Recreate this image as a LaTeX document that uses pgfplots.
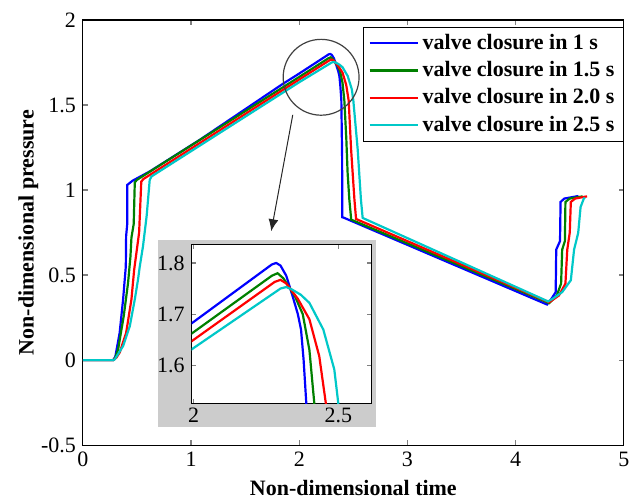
\documentclass[border=0pt]{standalone}
\usepackage{fontspec}
\setmainfont{Liberation Serif}
\usepackage{pgfplots}
\usepackage{pgfplotstable}
\pgfplotsset{compat=1.18}
\usetikzlibrary{arrows.meta}

\definecolor{cblue}{RGB}{0,0,255}
\definecolor{cgreen}{RGB}{0,128,0}
\definecolor{cred}{RGB}{255,0,0}
\definecolor{ccyan}{RGB}{0,200,200}

% time  pressure
\pgfplotstableread{
t p
0 0
0.28 0
0.30 0.02
0.34 0.16
0.372 0.357
0.397 0.55
0.40 0.73
0.41 0.80
0.41 1.03
0.46 1.055
0.62 1.11
1.08 1.295
1.85 1.625
2.00 1.685
2.27 1.797
2.285 1.80
2.30 1.795
2.32 1.775
2.342 1.735
2.36 1.70
2.371 1.67
2.38 1.61
2.389 1.528
2.396 1.20
2.398 0.84
2.417 0.836
4.29 0.327
4.33 0.36
4.37 0.40
4.375 0.65
4.41 0.70
4.415 0.93
4.45 0.95
4.58 0.965
}\blueT

\pgfplotstableread{
t p
0 0
0.28 0
0.30 0.015
0.326 0.063
0.378 0.26
0.418 0.455
0.44 0.61
0.449 0.72
0.47 0.80
0.48 1.045
0.50 1.06
2.00 1.665
2.27 1.775
2.29 1.78
2.31 1.77
2.35 1.735
2.377 1.70
2.40 1.63
2.417 1.525
2.435 1.30
2.447 1.10
2.463 0.944
2.48 0.826
4.31 0.335
4.38 0.38
4.42 0.45
4.43 0.65
4.455 0.70
4.46 0.93
4.50 0.95
4.62 0.963
}\greenT

\pgfplotstableread{
t p
0 0
0.28 0
0.31 0.015
0.34 0.044
0.40 0.16
0.449 0.357
0.474 0.53
0.52 0.75
0.54 1.05
0.56 1.065
2.00 1.65
2.28 1.763
2.30 1.767
2.32 1.76
2.36 1.73
2.40 1.69
2.434 1.618
2.457 1.525
2.479 1.24
2.51 0.944
2.525 0.83
4.31 0.34
4.40 0.38
4.46 0.45
4.477 0.65
4.50 0.75
4.51 0.93
4.55 0.95
4.66 0.963
}\redT

\pgfplotstableread{
t p
0 0
0.28 0
0.295 0.005
0.372 0.083
0.434 0.20
0.48 0.357
0.51 0.474
0.526 0.55
0.556 0.67
0.59 0.85
0.618 1.06
0.634 1.08
2.00 1.634
2.30 1.75
2.32 1.753
2.34 1.748
2.37 1.738
2.40 1.722
2.448 1.67
2.486 1.592
2.50 1.525
2.54 1.24
2.57 0.944
2.586 0.836
4.30 0.345
4.34 0.36
4.43 0.40
4.51 0.47
4.54 0.65
4.578 0.748
4.60 0.90
4.63 0.95
4.64 0.955
}\cyanT

\pgfplotsset{
  curve/.style={line width=1.1pt, mark=none},
}

\begin{document}
\begin{tikzpicture}
\begin{axis}[
    name=main,
    scale only axis,
    width=271pt, height=213pt,
    xmin=0, xmax=5, ymin=-0.5, ymax=2,
    xtick={0,1,2,3,4,5},
    ytick={-0.5,0,0.5,1,1.5,2},
    major tick length=2.5pt,
    axis line style={line width=0.6pt},
    tick style={line width=0.6pt},
    /pgf/number format/assume math mode=true,
    ticklabel style={font=\fontsize{11}{13}\selectfont},
    label style={font=\fontsize{11}{13}\selectfont\bfseries},
    xlabel={Non-dimensional time},
    ylabel={Non-dimensional pressure},
    ylabel style={yshift=-5.5pt},
    legend style={at={(1,0.984)}, anchor=north east, draw=black,
      font=\fontsize{11}{13}\selectfont\bfseries,
      row sep=0.5pt, inner xsep=2.5pt, inner ysep=1.5pt},
    legend cell align=left,
    legend image code/.code={\draw[#1] (0pt,0pt) -- (24pt,0pt);},
]
\addplot[curve, cblue] table[x=t, y=p] {\blueT};
\addplot[curve, cgreen] table[x=t, y=p] {\greenT};
\addplot[curve, cred] table[x=t, y=p] {\redT};
\addplot[curve, ccyan] table[x=t, y=p] {\cyanT};
\legend{valve closure in 1 s, valve closure in 1.5 s, valve closure in 2.0 s, valve closure in 2.5 s}
\coordinate (BL) at (rel axis cs:0,0);
\coordinate (TR) at (rel axis cs:1,1);
\coordinate (CC) at (axis cs:2.202,1.663);
\coordinate (A1) at (axis cs:1.94,1.442);
\coordinate (A2) at (axis cs:1.741,0.758);
\end{axis}
\path ([shift={(-41.5pt,-26pt)}]BL) rectangle ([shift={(5.5pt,10pt)}]TR);
\coordinate (IB) at ([shift={(54.5pt,21pt)}]BL);
\draw[black!75, line width=0.6pt] (CC) circle[radius=19pt];
\draw[black!85, line width=0.5pt, -{Latex[length=6pt,width=5pt]}] (A1) -- (A2);
\fill[black!20] ([shift={(37.5pt,9pt)}]BL) rectangle ([shift={(147pt,103pt)}]BL);
\begin{axis}[
    at={(IB)}, anchor=south west,
    scale only axis,
    width=90pt, height=79.5pt,
    xmin=1.993, xmax=2.614, ymin=1.526, ymax=1.836,
    xtick={2,2.5}, ytick={1.6,1.7,1.8},
    axis background/.style={fill=white},
    major tick length=2pt,
    axis line style={line width=0.6pt},
    tick style={line width=0.6pt},
    /pgf/number format/assume math mode=true,
    ticklabel style={font=\fontsize{11}{13}\selectfont},
    xticklabel style={yshift=1pt},
]
\addplot[curve, cblue] table[x=t, y=p] {\blueT};
\addplot[curve, cgreen] table[x=t, y=p] {\greenT};
\addplot[curve, cred] table[x=t, y=p] {\redT};
\addplot[curve, ccyan] table[x=t, y=p] {\cyanT};
\end{axis}
\end{tikzpicture}
\end{document}
